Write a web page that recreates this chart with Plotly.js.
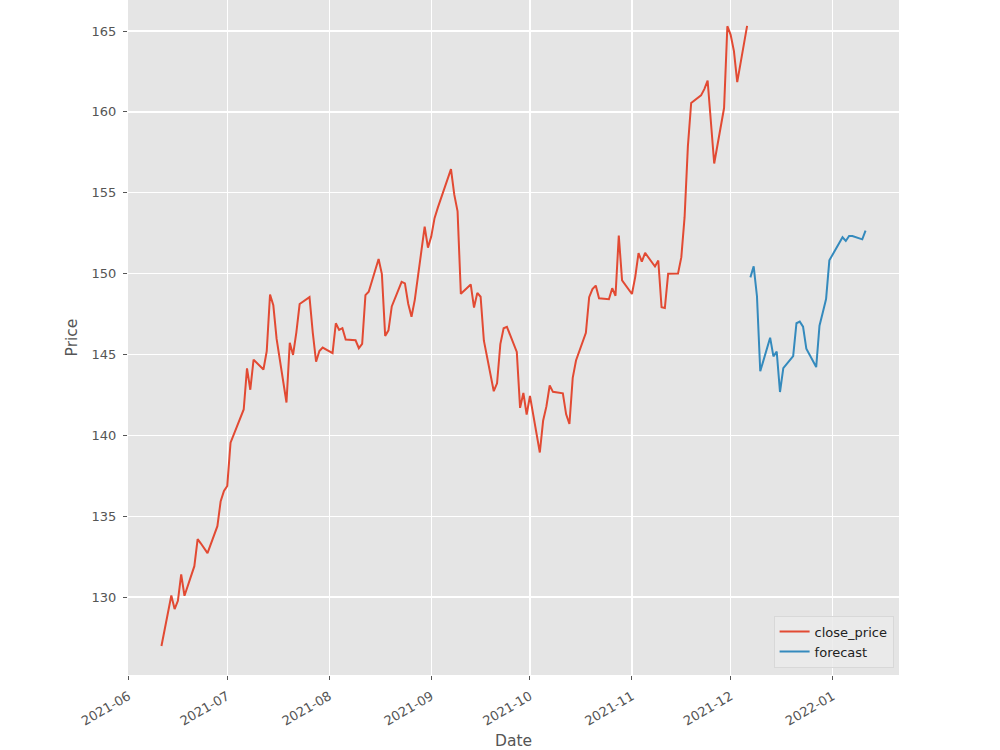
<!DOCTYPE html>
<html>
<head>
<meta charset="utf-8">
<script src="https://cdn.plot.ly/plotly-3.0.1.min.js"></script>
<style>
  html, body { margin: 0; padding: 0; background: #ffffff; }
  #chart { width: 1000px; height: 750px; }
</style>
</head>
<body>
<div id="chart"></div>
<script>
// ---- data ----
const closeDates = [
  "2021-06-11","2021-06-14","2021-06-15","2021-06-16","2021-06-17","2021-06-18",
  "2021-06-21","2021-06-22","2021-06-23","2021-06-24","2021-06-25",
  "2021-06-28","2021-06-29","2021-06-30","2021-07-01","2021-07-02",
  "2021-07-06","2021-07-07","2021-07-08","2021-07-09",
  "2021-07-12","2021-07-13","2021-07-14","2021-07-15","2021-07-16",
  "2021-07-19","2021-07-20","2021-07-21","2021-07-22","2021-07-23",
  "2021-07-26","2021-07-27","2021-07-28","2021-07-29","2021-07-30",
  "2021-08-02","2021-08-03","2021-08-04","2021-08-05","2021-08-06",
  "2021-08-09","2021-08-10","2021-08-11","2021-08-12","2021-08-13",
  "2021-08-16","2021-08-17","2021-08-18","2021-08-19","2021-08-20",
  "2021-08-23","2021-08-24","2021-08-25","2021-08-26","2021-08-27",
  "2021-08-30","2021-08-31","2021-09-01","2021-09-02","2021-09-03",
  "2021-09-07","2021-09-08","2021-09-09","2021-09-10",
  "2021-09-13","2021-09-14","2021-09-15","2021-09-16","2021-09-17",
  "2021-09-20","2021-09-21","2021-09-22","2021-09-23","2021-09-24",
  "2021-09-27","2021-09-28","2021-09-29","2021-09-30","2021-10-01",
  "2021-10-04","2021-10-05","2021-10-06","2021-10-07","2021-10-08",
  "2021-10-11","2021-10-12","2021-10-13","2021-10-14","2021-10-15",
  "2021-10-18","2021-10-19","2021-10-20","2021-10-21","2021-10-22",
  "2021-10-25","2021-10-26","2021-10-27","2021-10-28","2021-10-29",
  "2021-11-01","2021-11-02","2021-11-03","2021-11-04","2021-11-05",
  "2021-11-08","2021-11-09","2021-11-10","2021-11-11","2021-11-12",
  "2021-11-15","2021-11-16","2021-11-17","2021-11-18","2021-11-19",
  "2021-11-22","2021-11-23","2021-11-24","2021-11-26",
  "2021-11-29","2021-11-30","2021-12-01","2021-12-02","2021-12-03",
  "2021-12-06"
];
const closePrice = [
  126.97,130.10,129.26,129.77,131.40,130.08,
  131.91,133.58,133.31,133.02,132.72,
  134.38,135.93,136.56,136.87,139.55,
  141.60,144.14,142.82,144.68,
  144.07,145.21,148.71,148.04,145.96,
  142.03,145.72,144.97,146.37,148.12,
  148.55,146.34,144.55,145.21,145.43,
  145.09,146.93,146.52,146.63,145.93,
  145.88,145.39,145.65,148.67,148.88,
  150.90,149.97,146.15,146.49,147.97,
  149.49,149.40,148.14,147.33,148.38,
  152.90,151.61,152.29,153.43,154.08,
  156.46,154.88,153.85,148.75,
  149.33,147.90,148.81,148.57,145.85,
  142.73,143.22,145.64,146.62,146.71,
  145.16,141.70,142.62,141.29,142.44,
  138.94,140.90,141.79,143.08,142.69,
  142.60,141.30,140.70,143.55,144.63,
  146.34,148.54,149.04,149.26,148.47,
  148.42,149.10,148.63,152.35,149.58,
  148.74,149.80,151.27,150.74,151.28,
  150.44,150.81,147.92,147.87,149.99,
  150.00,151.00,153.49,157.87,160.55,
  161.02,161.41,161.94,156.81,
  160.24,165.30,164.77,163.76,161.84,
  165.32
];
const forecastDates = [
  "2021-12-07","2021-12-08","2021-12-09","2021-12-10",
  "2021-12-13","2021-12-14","2021-12-15","2021-12-16","2021-12-17",
  "2021-12-20","2021-12-21","2021-12-22","2021-12-23","2021-12-24",
  "2021-12-27","2021-12-28","2021-12-29","2021-12-30","2021-12-31",
  "2022-01-03","2022-01-04","2022-01-05","2022-01-06","2022-01-07",
  "2022-01-10","2022-01-11"
];
const forecastPrice = [
  149.77,150.45,148.60,143.96,
  146.04,144.88,145.18,142.68,144.15,
  144.90,146.93,147.03,146.72,145.36,
  144.22,146.78,147.60,148.43,150.82,
  151.95,152.25,152.02,152.33,152.32,
  152.12,152.66
];
const xTickStart = "2021-06-01";
const xRange = ["2021-05-31 20:00", "2022-01-21 04:00"];
const yRange = [125.18, 166.92];
const yTicks = [130, 135, 140, 145, 150, 155, 160, 165];

// ---- chart ----
const FONT = "DejaVu Sans, Liberation Sans, sans-serif";
const traces = [
  {
    x: closeDates, y: closePrice, type: "scatter", mode: "lines",
    name: "close_price",
    line: { color: "#E24A33", width: 2 }
  },
  {
    x: forecastDates, y: forecastPrice, type: "scatter", mode: "lines",
    name: "forecast",
    line: { color: "#348ABD", width: 2 }
  }
];

const layout = {
  width: 1000, height: 750,
  margin: { l: 128, r: 101, t: 0, b: 75 },
  paper_bgcolor: "#ffffff",
  plot_bgcolor: "#E5E5E5",
  font: { family: FONT, color: "#555555", size: 13 },
  showlegend: true,
  legend: {
    x: 0.993, y: 0.011, xanchor: "right", yanchor: "bottom",
    bgcolor: "rgba(235,235,235,0.85)", bordercolor: "#D8D8D8", borderwidth: 1,
    font: { family: FONT, size: 13, color: "#222222" },
    itemwidth: 30, tracegroupgap: 0
  },
  xaxis: {
    type: "date",
    range: xRange,
    tick0: xTickStart, dtick: "M1", tickformat: "%Y-%m",
    tickangle: -30,
    ticks: "outside", ticklen: 4, tickcolor: "#555555", tickwidth: 1,
    ticklabelstandoff: 4,
    showgrid: true, gridcolor: "#ffffff", gridwidth: 1.2,
    zeroline: false, showline: false,
    tickfont: { family: FONT, size: 13, color: "#555555" },
    title: { text: "Date", font: { family: FONT, size: 15.5, color: "#555555" }, standoff: 12 },
    automargin: false
  },
  yaxis: {
    range: yRange,
    tickvals: yTicks,
    ticks: "outside", ticklen: 4, tickcolor: "#555555", tickwidth: 1,
    ticklabelstandoff: 4,
    showgrid: true, gridcolor: "#ffffff", gridwidth: 1.2,
    zeroline: false, showline: false,
    tickfont: { family: FONT, size: 13, color: "#555555" },
    title: { text: "Price", font: { family: FONT, size: 15.5, color: "#555555" }, standoff: 10 },
    automargin: false
  }
};

Plotly.newPlot("chart", traces, layout, { staticPlot: true, displayModeBar: false });
</script>
</body>
</html>
